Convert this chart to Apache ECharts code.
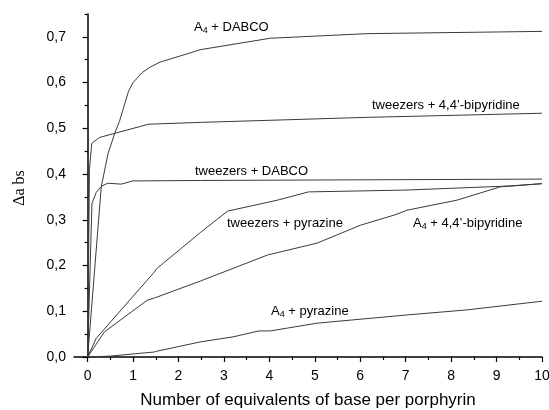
<!DOCTYPE html>
<html>
<head>
<meta charset="utf-8">
<script src="https://cdn.jsdelivr.net/npm/echarts@6/dist/echarts.min.js"></script>
<style>html,body{margin:0;padding:0;background:#fff;}#c{width:549px;height:410px;}</style>
</head>
<body>
<div id="c"></div>
<script>
// ---- data (x = equivalents of base, y = Δabs) ----
var xMajorTicks = [0,1,2,3,4,5,6,7,8,9,10];
var xMinorTicks = [0.5,1.5,2.5,3.5,4.5,5.5,6.5,7.5,8.5,9.5];
var yMajorTicks = [0,0.1,0.2,0.3,0.4,0.5,0.6,0.7];
var yMinorTicks = [0.05,0.15,0.25,0.35,0.45,0.55,0.65,0.75];

var a4Dabco = [[0,0],[0.3,0.372],[0.45,0.445],[0.6,0.49],[0.7,0.515],[0.8,0.548],[0.9,0.581],[1.0,0.6],[1.2,0.622],[1.38,0.634],[1.6,0.645],[2.26,0.665],[2.48,0.672],[4.02,0.697],[6.15,0.707],[10,0.712]];
var tweezersBipy = [[0,0],[0.04,0.41],[0.09,0.467],[0.26,0.48],[1.34,0.509],[2.48,0.513],[6.15,0.524],[10,0.533]];
var tweezersDabco = [[0,0],[0.095,0.336],[0.19,0.36],[0.3,0.373],[0.44,0.38],[0.74,0.378],[0.99,0.385],[2.48,0.386],[5,0.387],[10,0.389]];
var tweezersPyrazine = [[0,0],[0.19,0.041],[1.47,0.186],[1.53,0.194],[2.48,0.272],[3.08,0.319],[4.18,0.343],[4.86,0.361],[7,0.365],[9.3,0.374],[10,0.379]];
var a4Bipy = [[0,0],[0.37,0.055],[1.31,0.124],[1.47,0.129],[2.48,0.166],[3.96,0.223],[5.05,0.249],[6.0,0.288],[6.77,0.311],[7.03,0.321],[8.13,0.343],[9.08,0.372],[10,0.379]];
var a4Pyrazine = [[0,0],[0.5,0.002],[1.47,0.011],[1.54,0.013],[2.48,0.033],[3.2,0.044],[3.77,0.057],[4.02,0.057],[5.05,0.074],[7.03,0.092],[8.35,0.103],[10,0.122]];

var xTitle = 'Number of equivalents of base per porphyrin';
var yTitle = 'Δa bs';

// ---- chart ----
var chart = echarts.init(document.getElementById('c'), null, {renderer: 'canvas'});
var FONT = 'Liberation Sans, Arial, Helvetica, sans-serif';
var lineColor = '#3a3a3a';

function mkSeries(name, data) {
  return {
    name: name, type: 'line', data: data, symbol: 'none', smooth: false,
    xAxisIndex: 0, yAxisIndex: 0,
    lineStyle: {color: lineColor, width: 1}, silent: true
  };
}

var baseAxisLine = {show: true, lineStyle: {color: '#000', width: 1.5}};

function lbl(x, y, text) {
  return {
    type: 'text', x: x, y: y, silent: true,
    style: {
      text: text, fill: '#000', font: '13px ' + FONT, lineHeight: 16,
      verticalAlign: 'middle', align: 'left',
      rich: { s: {fontSize: 9, fontFamily: FONT, lineHeight: 9, verticalAlign: 'bottom', fill: '#000'} }
    }
  };
}

var option = {
  animation: false,
  backgroundColor: '#fff',
  grid: {left: 74, right: 7, top: 14, bottom: 53, containLabel: false, outerBoundsMode: 'none'},
  xAxis: [
    {
      type: 'value', min: -0.3, max: 10, position: 'bottom',
      axisLine: baseAxisLine,
      axisTick: {show: true, inside: false, length: 5, customValues: xMajorTicks, lineStyle: {color: '#000', width: 1.2}},
      axisLabel: {customValues: xMajorTicks, margin: 12, color: '#000', fontSize: 14, fontFamily: FONT},
      splitLine: {show: false},
      name: xTitle, nameLocation: 'middle', nameGap: 35,
      nameTextStyle: {color: '#000', fontSize: 17, fontFamily: FONT}
    },
    {
      type: 'value', min: -0.3, max: 10, position: 'bottom',
      axisLine: {show: false},
      axisTick: {show: true, inside: false, length: 3, customValues: xMinorTicks, lineStyle: {color: '#000', width: 1.2}},
      axisLabel: {show: false},
      splitLine: {show: false}
    }
  ],
  yAxis: [
    {
      type: 'value', min: 0, max: 0.75, position: 'left',
      axisLine: baseAxisLine,
      axisTick: {show: true, inside: false, length: 5, customValues: yMajorTicks, lineStyle: {color: '#000', width: 1.2}},
      axisLabel: {customValues: yMajorTicks, margin: 8, color: '#000', fontSize: 14, fontFamily: FONT,
        formatter: function (v) { return v.toFixed(1).replace('.', ','); }},
      splitLine: {show: false}
    },
    {
      type: 'value', min: 0, max: 0.75, position: 'left',
      axisLine: {show: false},
      axisTick: {show: true, inside: false, length: 3, customValues: yMinorTicks, lineStyle: {color: '#000', width: 1.2}},
      axisLabel: {show: false},
      splitLine: {show: false}
    }
  ],
  series: [
    mkSeries('A4 + DABCO', a4Dabco),
    mkSeries('tweezers + 4,4’-bipyridine', tweezersBipy),
    mkSeries('tweezers + DABCO', tweezersDabco),
    mkSeries('tweezers + pyrazine', tweezersPyrazine),
    mkSeries('A4 + 4,4’-bipyridine', a4Bipy),
    mkSeries('A4 + pyrazine', a4Pyrazine)
  ],
  graphic: [
    lbl(194, 27, 'A{s|4} + DABCO'),
    lbl(372, 105, 'tweezers + 4,4’-bipyridine'),
    lbl(195, 171, 'tweezers + DABCO'),
    lbl(227, 223, 'tweezers + pyrazine'),
    lbl(413, 223, 'A{s|4} + 4,4’-bipyridine'),
    lbl(271, 311, 'A{s|4} + pyrazine'),
    {
      type: 'text', x: 20, y: 188, rotation: Math.PI / 2, silent: true,
      style: {text: yTitle, fill: '#000', font: '16px "Liberation Serif", "Times New Roman", serif',
        align: 'center', verticalAlign: 'middle'}
    }
  ]
};
chart.setOption(option);
</script>
</body>
</html>
